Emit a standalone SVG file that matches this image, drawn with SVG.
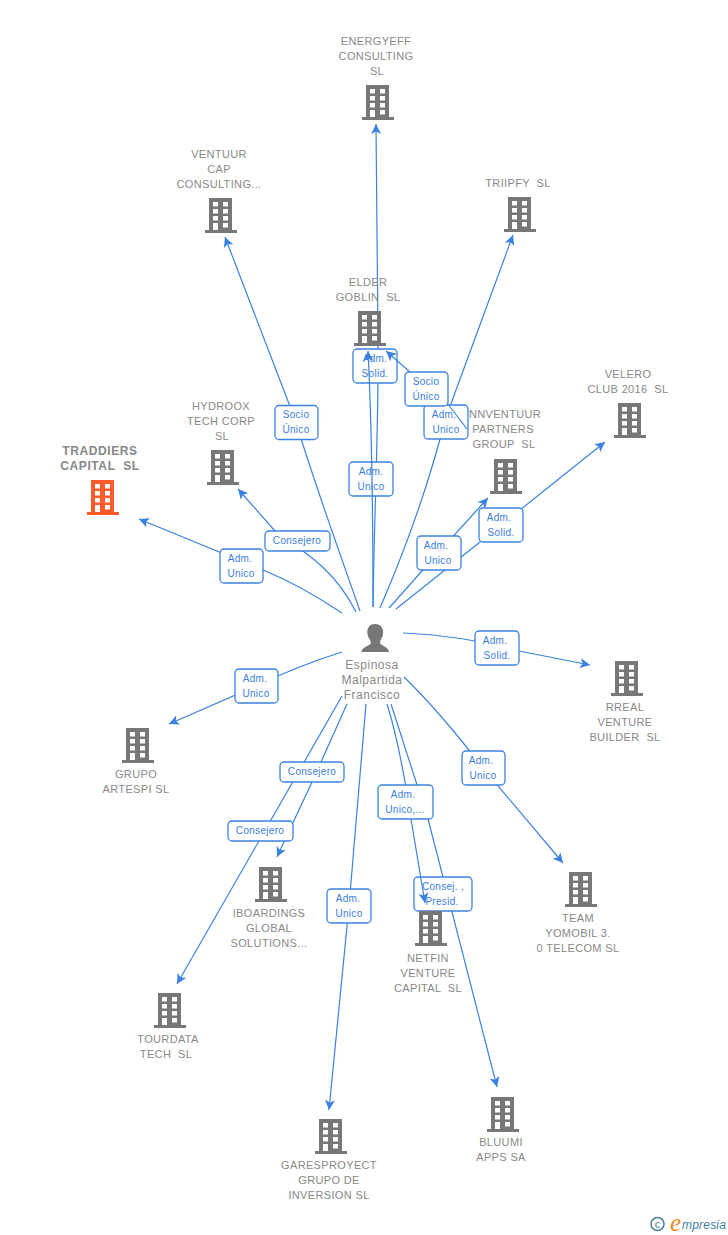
<svg xmlns="http://www.w3.org/2000/svg" width="728" height="1235" viewBox="0 0 728 1235">
<style>
text{font-family:"Liberation Sans",Arial,sans-serif}
.n{font-size:11px;fill:#888;text-anchor:middle;letter-spacing:.35px}
.h{font-size:12px;font-weight:bold;fill:#888;text-anchor:middle;letter-spacing:.6px}
.p{font-size:12px;fill:#888;text-anchor:middle;letter-spacing:.5px}
.c{fill:none;stroke:#3b82e0;stroke-width:1.2}
.l rect{fill:#fff;stroke:#3b82e0;stroke-width:1.3}
.l text{font-size:10px;fill:#3b7ddc;text-anchor:middle;letter-spacing:.3px}
.g{fill:#777}.o{fill:#ff5a2c}
</style>
<defs>
<marker id="a" markerWidth="11" markerHeight="10" refX="10" refY="5" orient="auto" markerUnits="userSpaceOnUse"><path d="M0,0 L10,5 L0,10 L2.500,5Z" fill="#3b82e0"/></marker>
<symbol id="b" width="32" height="35" viewBox="0 0 32 35" overflow="visible"><path fill-rule="evenodd" d="M4,0H27V32H32V35H0V32H4ZM8,4V8.500H13V4ZM18,4V8.500H23V4ZM8,11V15.500H13V11ZM18,11V15.500H23V11ZM8,18V22.500H13V18ZM18,18V22.500H23V18ZM8,25V32H13V25ZM18,25V29.500H23V25Z"/></symbol>
</defs>

<g id="connectors">
<path class="c" marker-end="url(#a)" d="M373,607 C374,520 379,420 378,340 L376,124"/>
<path class="c" marker-end="url(#a)" d="M360,611 C335,540 310,470 296,422 L225,237"/>
<path class="c" marker-end="url(#a)" d="M380,608 C405,550 430,480 445,420 L513,235"/>
<path class="c" marker-end="url(#a)" d="M342,613 Q300,585 263,570 L139,519"/>
<path class="c" marker-end="url(#a)" d="M356,612 C335,570 305,552 275,531 L238,489"/>
<path class="c" marker-end="url(#a)" d="M389,608 L438,553 L488,498"/>
<path class="c" marker-end="url(#a)" d="M396,609 L470,550 L605,442"/>
<path class="c" marker-end="url(#a)" d="M403,633 C450,635 490,643 519,651 L590,665"/>
<path class="c" marker-end="url(#a)" d="M404,677 Q440,712 483,768 L563,863"/>
<path class="c" marker-end="url(#a)" d="M342,652 Q300,665 256,686 L169,724"/>
<path class="c" marker-end="url(#a)" d="M347,704 L312,782 L277,857"/>
<path class="c" marker-end="url(#a)" d="M342,696 L177,984"/>
<path class="c" marker-end="url(#a)" d="M366,704 L349,906 L329,1110"/>
<path class="c" marker-end="url(#a)" d="M391,704 L428,819 L443,877 L497,1087"/>
<path class="c" d="M387,704 Q400,745 411,819"/>
</g>

<g id="labels" class="l">
<g><rect x="275" y="405.500" width="43" height="34" rx="4"/><text x="296" y="418">Socio</text><text x="296" y="433">Único</text></g>
<g><rect x="349" y="462" width="44" height="34" rx="4"/><text x="371" y="475">Adm.</text><text x="371" y="490">Unico</text></g>
<g><rect x="353" y="349" width="44" height="34" rx="4"/><text x="375" y="362">Adm.</text><text x="375" y="377">Solid.</text></g>
<g><rect x="424" y="405" width="44" height="34" rx="4"/><text x="444" y="418">Adm.</text><text x="446" y="433">Unico</text></g>
<g><rect x="405" y="372" width="43" height="34" rx="4"/><text x="426" y="385">Socio</text><text x="426" y="400">Único</text></g>
<g><rect x="479" y="508" width="44" height="34" rx="4"/><text x="499" y="521">Adm.</text><text x="501" y="536">Solid.</text></g>
<g><rect x="417" y="536" width="44" height="34" rx="4"/><text x="436" y="549">Adm.</text><text x="438" y="564">Unico</text></g>
<g><rect x="265" y="531" width="65" height="20" rx="4"/><text x="297" y="544">Consejero</text></g>
<g><rect x="220" y="549" width="43" height="34" rx="4"/><text x="240" y="562">Adm.</text><text x="241" y="577">Unico</text></g>
<g><rect x="235" y="669" width="43" height="34" rx="4"/><text x="255" y="682">Adm.</text><text x="256" y="697">Unico</text></g>
<g><rect x="475" y="631" width="44" height="34" rx="4"/><text x="495" y="644">Adm.</text><text x="497" y="659">Solid.</text></g>
<g><rect x="462" y="751" width="43" height="34" rx="4"/><text x="481" y="764">Adm.</text><text x="483" y="779">Unico</text></g>
<g><rect x="280" y="762" width="64" height="20" rx="4"/><text x="312" y="775">Consejero</text></g>
<g><rect x="228" y="821" width="65" height="20" rx="4"/><text x="260" y="834">Consejero</text></g>
<g><rect x="378" y="785" width="55" height="34" rx="4"/><text x="403" y="798">Adm.</text><text x="405" y="813">Unico,...</text></g>
<g><rect x="414" y="877" width="58" height="34" rx="4"/><text x="443" y="890">Consej. ,</text><text x="442" y="905">Presid.</text></g>
<g><rect x="327" y="889" width="44" height="34" rx="4"/><text x="348" y="902">Adm.</text><text x="349" y="917">Unico</text></g>
</g>

<g id="connectors-over">
<path class="c" marker-end="url(#a)" d="M373,607 C373,540 373,450 368,351"/>
<path class="c" marker-end="url(#a)" d="M467,429 L447,403 M410,372 L386,351"/>
<path class="c" marker-end="url(#a)" d="M411,819 L425,903"/>
</g>

<g id="n-energyeff"><use href="#b" x="362" y="85" class="g"/><text class="n" x="376" y="45">ENERGYEFF</text><text class="n" x="376" y="60">CONSULTING</text><text class="n" x="377" y="75">SL</text></g>
<g id="n-ventuur"><use href="#b" x="205" y="198" class="g"/><text class="n" x="219" y="158">VENTUUR</text><text class="n" x="219" y="173">CAP</text><text class="n" x="219" y="188">CONSULTING...</text></g>
<g id="n-triipfy"><use href="#b" x="504" y="197" class="g"/><text class="n" x="518" y="187" xml:space="preserve">TRIIPFY  SL</text></g>
<g id="n-elder"><use href="#b" x="354" y="311" class="g"/><text class="n" x="368" y="286">ELDER</text><text class="n" x="368" y="301" xml:space="preserve">GOBLIN  SL</text></g>
<g id="n-hydroox"><use href="#b" x="207" y="450" class="g"/><text class="n" x="221" y="410">HYDROOX</text><text class="n" x="221" y="425">TECH CORP</text><text class="n" x="222" y="440">SL</text></g>
<g id="n-traddiers"><use href="#b" x="87" y="480" class="o"/><text class="h" x="100" y="455">TRADDIERS</text><text class="h" x="100" y="470" xml:space="preserve">CAPITAL  SL</text></g>
<g id="n-nnventuur"><use href="#b" x="490" y="459" class="g"/><text class="n" x="505" y="418">NNVENTUUR</text><text class="n" x="503" y="433">PARTNERS</text><text class="n" x="504" y="448" xml:space="preserve">GROUP  SL</text></g>
<g id="n-velero"><use href="#b" x="614" y="403" class="g"/><text class="n" x="628" y="378">VELERO</text><text class="n" x="628" y="393" xml:space="preserve">CLUB 2016  SL</text></g>
<g id="n-rreal"><use href="#b" x="611" y="661" class="g"/><text class="n" x="625" y="711">RREAL</text><text class="n" x="625" y="726">VENTURE</text><text class="n" x="625" y="741" xml:space="preserve">BUILDER  SL</text></g>
<g id="n-grupo"><use href="#b" x="122" y="728" class="g"/><text class="n" x="136" y="778">GRUPO</text><text class="n" x="136" y="793">ARTESPI SL</text></g>
<g id="n-iboardings"><use href="#b" x="255" y="867" class="g"/><text class="n" x="269" y="917">IBOARDINGS</text><text class="n" x="269" y="932">GLOBAL</text><text class="n" x="269" y="947">SOLUTIONS...</text></g>
<g id="n-team"><use href="#b" x="565" y="872" class="g"/><text class="n" x="578" y="922">TEAM</text><text class="n" x="578" y="937">YOMOBIL 3.</text><text class="n" x="578" y="952">0 TELECOM SL</text></g>
<g id="n-netfin"><use href="#b" x="415" y="911" class="g"/><text class="n" x="428" y="962">NETFIN</text><text class="n" x="428" y="977">VENTURE</text><text class="n" x="428" y="992" xml:space="preserve">CAPITAL  SL</text></g>
<g id="n-tourdata"><use href="#b" x="154" y="993" class="g"/><text class="n" x="168" y="1043">TOURDATA</text><text class="n" x="166" y="1058" xml:space="preserve">TECH  SL</text></g>
<g id="n-garesproyect"><use href="#b" x="315" y="1119" class="g"/><text class="n" x="329" y="1169">GARESPROYECT</text><text class="n" x="329" y="1184">GRUPO DE</text><text class="n" x="329" y="1199">INVERSION SL</text></g>
<g id="n-bluumi"><use href="#b" x="487" y="1097" class="g"/><text class="n" x="501" y="1146">BLUUMI</text><text class="n" x="501" y="1161">APPS SA</text></g>
<g id="n-person"><path class="g" d="M375,624 C381,624 384,629 383,634 C382.500,638 380,640 380,643 C381,646 389,647 389,652 H361.500 C361.500,647 370,646 371,643 C371,640 368,638 367.500,634 C366.500,629 369,624 375,624Z"/><text class="p" x="372" y="669">Espinosa</text><text class="p" x="372" y="684">Malpartida</text><text class="p" x="372" y="699">Francisco</text></g>
<g id="logo"><circle cx="657.500" cy="1224" r="6.500" fill="none" stroke="#4a7f9a" stroke-width="1.500"/><text x="657.500" y="1228" font-size="11" fill="#4a7f9a" text-anchor="middle">c</text><text x="670" y="1231" font-size="25" font-style="italic" style="font-family:'Liberation Serif',serif" fill="#f08a1c">e</text><text x="682" y="1229" font-size="12" font-style="italic" fill="#3f7f9f" letter-spacing=".2">mpresia</text></g>
</svg>
